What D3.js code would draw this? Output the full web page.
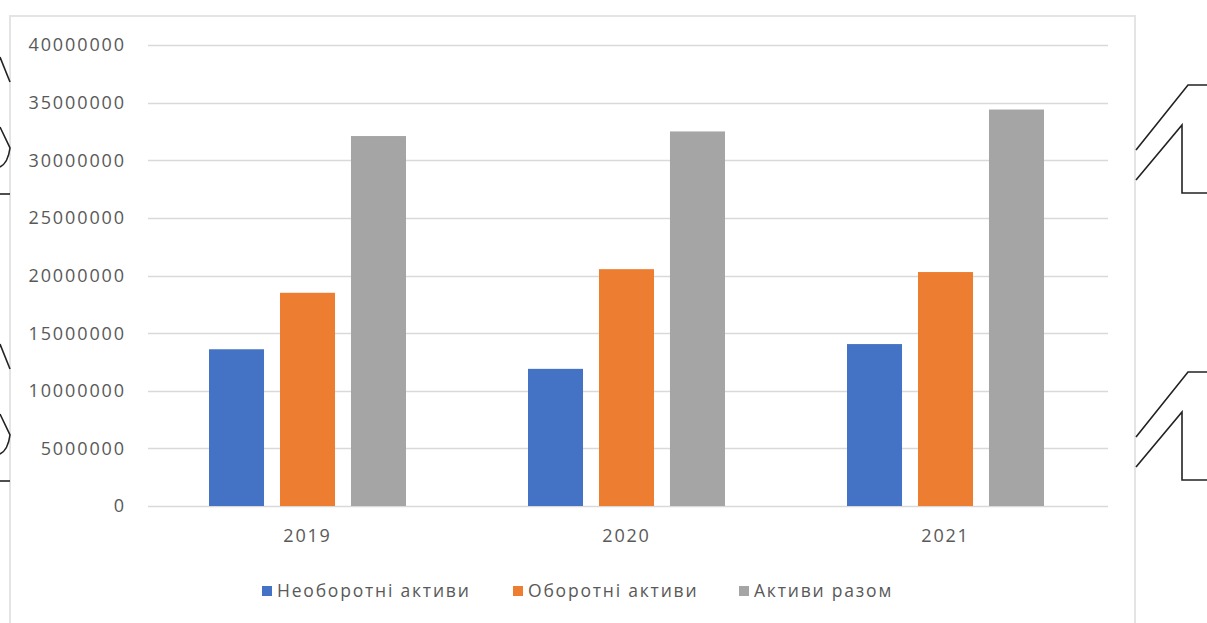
<!DOCTYPE html>
<html>
<head>
<meta charset="utf-8">
<script src="https://cdn.jsdelivr.net/npm/d3@7"></script>
<style>
  body { margin: 0; background: #fff; }
  svg text { font-family: "Open Sans", sans-serif; fill: #595959; }
</style>
</head>
<body>
<svg id="chart" width="1207" height="623"></svg>
<script>
// data
const years = ["2019", "2020", "2021"];
const seriesNames = ["Необоротні активи", "Оборотні активи", "Активи разом"];
const nonCurrent = [13600000, 11900000, 14050000];
const current = [18500000, 20550000, 20300000];
const total = [32100000, 32500000, 34400000];
const yTicks = [0, 5000000, 10000000, 15000000, 20000000, 25000000, 30000000, 35000000, 40000000];

const colors = ["#4472C4", "#ED7D31", "#A5A5A5"];
const values = [nonCurrent, current, total];

const width = 1207, height = 623;
const svg = d3.select("#chart");

svg.append("rect").attr("width", width).attr("height", height).attr("fill", "#fff");

// chart frame (scan edges)
svg.append("path")
  .attr("d", "M10,623 L10,16 L1135,16 L1135,623")
  .attr("fill", "none")
  .attr("stroke", "#e4e4e4")
  .attr("stroke-width", 2);

const plot = { left: 148, right: 1105, top: 45, bottom: 506 };

const y = d3.scaleLinear().domain([0, 40000000]).range([plot.bottom, plot.top]);
const x0 = d3.scaleBand().domain(years).range([plot.left, plot.right]).padding(0);
const groupW = 197;
const x1 = d3.scaleBand().domain(d3.range(3))
  .range([(x0.bandwidth() - groupW) / 2, (x0.bandwidth() + groupW) / 2])
  .paddingInner(0.225).paddingOuter(0);

// gridlines
svg.append("g")
  .selectAll("line")
  .data(yTicks)
  .enter()
  .append("line")
  .attr("x1", plot.left)
  .attr("x2", plot.right + 3)
  .attr("y1", d => Math.round(y(d)) + 0.5)
  .attr("y2", d => Math.round(y(d)) + 0.5)
  .attr("stroke", "#d9d9d9")
  .attr("stroke-width", 1.3);

// y tick labels
svg.append("g")
  .selectAll("text")
  .data(yTicks)
  .enter()
  .append("text")
  .attr("x", 126)
  .attr("y", d => y(d))
  .attr("dy", "0.36em")
  .attr("text-anchor", "end")
  .style("font-size", "18px")
  .style("letter-spacing", "1.9px")
  .text(d => d);

// bars
const groups = svg.append("g")
  .selectAll("g")
  .data(years)
  .enter()
  .append("g")
  .attr("transform", d => "translate(" + x0(d) + ",0)");

groups.selectAll("rect")
  .data((d, i) => values.map((v, s) => ({ s: s, v: v[i] })))
  .enter()
  .append("rect")
  .attr("x", d => x1(d.s))
  .attr("width", x1.bandwidth())
  .attr("y", d => y(d.v))
  .attr("height", d => y(0) - y(d.v))
  .attr("fill", d => colors[d.s]);

// x labels
svg.append("g")
  .selectAll("text")
  .data(years)
  .enter()
  .append("text")
  .attr("x", d => x0(d) + x0.bandwidth() / 2)
  .attr("y", 542)
  .attr("text-anchor", "middle")
  .style("font-size", "18px")
  .style("letter-spacing", "1.8px")
  .text(d => d);

// legend
const legendX = [262, 513, 739];
const legend = svg.append("g")
  .selectAll("g")
  .data(seriesNames)
  .enter()
  .append("g")
  .attr("transform", (d, i) => "translate(" + legendX[i] + ",591)");

legend.append("rect")
  .attr("x", 0).attr("y", -5)
  .attr("width", 10).attr("height", 10)
  .attr("fill", (d, i) => colors[i]);

legend.append("text")
  .attr("x", 15)
  .attr("dy", "0.35em")
  .style("font-size", "17.5px")
  .style("letter-spacing", "1.8px")
  .text(d => d);

// stray bracket marks from the scanned page
const marks = svg.append("g").attr("fill", "none").attr("stroke", "#222").attr("stroke-width", 1.6);
[0, 287].forEach(off => {
  marks.append("path").attr("d", `M0,${57 + off} L10,${82 + off}`);
  marks.append("path").attr("d", `M0,${127 + off} L10,${148 + off} Q8,${163 + off} 0,${167 + off}`);
  marks.append("path").attr("d", `M0,${194 + off} L10,${194 + off}`);
  marks.append("path").attr("d", `M1136,${150 + off} L1188,${85 + off} L1207,${85 + off}`);
  marks.append("path").attr("d", `M1136,${180 + off} L1182,${125 + off} L1182,${193 + off} L1207,${193 + off}`);
});
</script>
</body>
</html>
